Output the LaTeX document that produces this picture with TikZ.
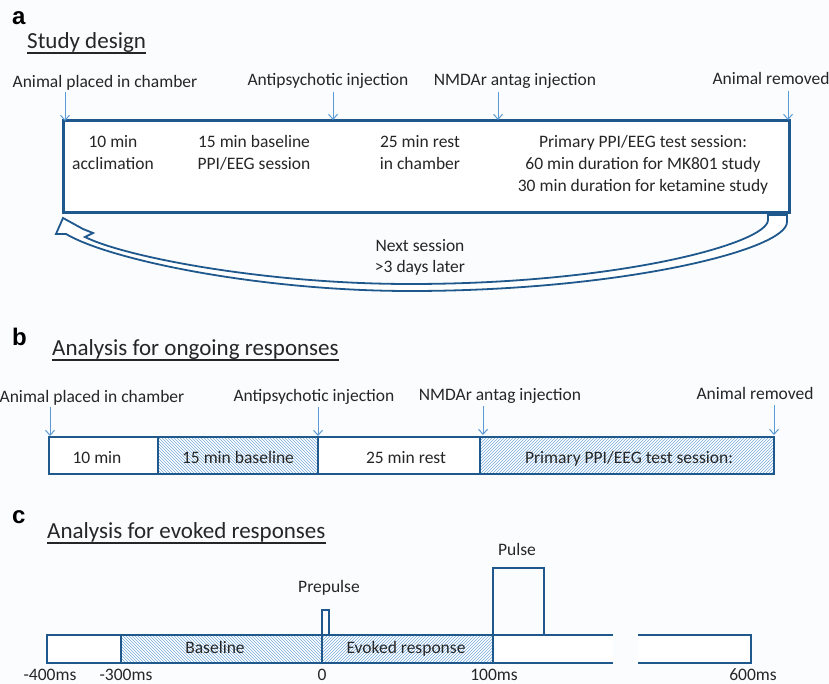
\documentclass[tikz,border=0pt]{standalone}
\usepackage{fontspec}
\setmainfont{Carlito}
\newfontfamily\labfont{Liberation Sans}
\usetikzlibrary{patterns,arrows.meta}
\definecolor{dblue}{RGB}{31,88,140}
\definecolor{lblue}{RGB}{91,155,213}
\definecolor{hatchc}{RGB}{120,170,220}
\definecolor{txtc}{RGB}{38,38,38}
\definecolor{bgc}{RGB}{251,252,254}
\begin{document}
\begin{tikzpicture}[x=1pt,y=-1pt,
  txt/.style={font=\fontsize{17.5}{21}\selectfont, text=txtc, inner sep=0pt, anchor=base},
  ttl/.style={font=\fontsize{23}{27}\selectfont, text=txtc, inner sep=0pt, anchor=base west},
  lab/.style={font=\labfont\bfseries\fontsize{24}{28}\selectfont, text=black, inner sep=0pt, anchor=base west},
  inj/.style={draw=lblue, line width=1pt, -{Straight Barb[length=5pt,width=9pt]}},
  frame/.style={draw=dblue, line width=2.5pt},
  uline/.style={draw=txtc, line width=1.4pt},
  hatchNW/.style={pattern=north west lines, pattern color=hatchc},
  hatchNE/.style={pattern=north east lines, pattern color=hatchc},
]
\useasboundingbox[fill=bgc] (0,0) rectangle (829,684);

% ---------------- panel a ----------------
\node[lab] (la) at (12,25) {a};
\node[ttl] (ta) at (27,49) {Study design};
\draw[uline] ([yshift=-4pt]ta.base west) -- ([yshift=-4pt]ta.base east);

\node[txt] (a1) at (105,88) {Animal placed in chamber};
\node[txt] (a2) at (328,86) {Antipsychotic injection};
\node[txt] (a3) at (515,86) {NMDAr antag injection};
\node[txt] (a4) at (771,85) {Animal removed};
\coordinate (a1s) at (65,92);  \coordinate (a1e) at (65,121);
\coordinate (a2s) at (333,92); \coordinate (a2e) at (333,120);
\coordinate (a3s) at (498,92); \coordinate (a3e) at (498,120);
\coordinate (a4s) at (788,91); \coordinate (a4e) at (788,120);

% curved return arrow
\draw[draw=dblue, line width=1.8pt, fill=white, line join=miter]
  (787,215) -- (787,222) .. controls (787,250) and (620,291) .. (410,291)
  .. controls (260,291) and (110,260) .. (66,234)
  -- (56,234) -- (63,218) -- (83,229) -- (93,233) -- (85,237)
  .. controls (125,257) and (265,284) .. (410,284)
  .. controls (620,284) and (768,243) .. (768,220) -- (768,215) -- cycle;

\draw[frame, line width=3pt, fill=white] (63,121) rectangle (789,213);
\draw[inj] (a1s) -- (a1e);
\draw[inj] (a2s) -- (a2e);
\draw[inj] (a3s) -- (a3e);
\draw[inj] (a4s) -- (a4e);

\node[txt] (s1a) at (113,148) {10 min};
\node[txt] (s1b) at (113,170) {acclimation};
\node[txt] (s2a) at (254,148) {15 min baseline};
\node[txt] (s2b) at (254,170) {PPI/EEG session};
\node[txt] (s3a) at (420,148) {25 min rest};
\node[txt] (s3b) at (420,170) {in chamber};
\node[txt] (s4a) at (643,148) {Primary PPI/EEG test session:};
\node[txt] (s4b) at (643,170) {60 min duration for MK801 study};
\node[txt] (s4c) at (643,192) {30 min duration for ketamine study};
\node[txt] (nx1) at (420,252) {Next session};
\node[txt] (nx2) at (420,273) {>3 days later};

% ---------------- panel b ----------------
\node[lab] (lb) at (12,345) {b};
\node[ttl] (tb) at (52,355) {Analysis for ongoing responses};
\draw[uline] ([yshift=-5pt]tb.base west) -- ([yshift=-5pt]tb.base east);

\node[txt] (b1) at (92,402) {Animal placed in chamber};
\node[txt] (b2) at (314,401) {Antipsychotic injection};
\node[txt] (b3) at (500,400) {NMDAr antag injection};
\node[txt] (b4) at (755,399) {Animal removed};
\coordinate (b1s) at (50,407);  \coordinate (b1e) at (50,436);
\coordinate (b2s) at (318,407); \coordinate (b2e) at (318,436);
\coordinate (b3s) at (483,406); \coordinate (b3e) at (483,435);
\coordinate (b4s) at (774,405); \coordinate (b4e) at (774,435);

\fill[white] (49,437) rectangle (774,474);
\path[hatchNW] (158,437) rectangle (318,474);
\path[hatchNE] (480,437) rectangle (774,474);
\draw[frame] (49,437) rectangle (774,474);
\draw[frame] (158,437) -- (158,474);
\draw[frame] (318,437) -- (318,474);
\draw[frame] (480,437) -- (480,474);
\draw[inj] (b1s) -- (b1e);
\draw[inj] (b2s) -- (b2e);
\draw[inj] (b3s) -- (b3e);
\draw[inj] (b4s) -- (b4e);

\node[txt] (bs1) at (97,463) {10 min};
\node[txt] (bs2) at (238,463) {15 min baseline};
\node[txt] (bs3) at (406,463) {25 min rest};
\node[txt] (bs4) at (629,463) {Primary PPI/EEG test session:};

% ---------------- panel c ----------------
\node[lab] (lc) at (12,523) {c};
\node[ttl] (tc) at (47,538) {Analysis for evoked responses};
\draw[uline] ([yshift=-5pt]tc.base west) -- ([yshift=-5pt]tc.base east);

\fill[white] (47,635) rectangle (613,663);
\fill[white] (638,635) rectangle (751,663);
\path[hatchNW] (121,635) rectangle (322,663);
\path[hatchNE] (322,635) rectangle (493,663);
\draw[frame] (613,635) -- (47,635) -- (47,663) -- (613,663);
\draw[frame] (638,635) -- (751,635) -- (751,663) -- (638,663);
\draw[frame] (121,635) -- (121,663);
\draw[frame] (322,663) -- (322,610) -- (329,610) -- (329,635);
\draw[frame] (493,663) -- (493,568) -- (544,568) -- (544,635);

\node[txt] (pp) at (329,592) {Prepulse};
\node[txt] (pu) at (517,555) {Pulse};
\node[txt] (bl) at (215,653) {Baseline};
\node[txt] (ev) at (406,653) {Evoked response};
\node[txt] (t1) at (50,680) {-400ms};
\node[txt] (t2) at (126,680) {-300ms};
\node[txt] (t3) at (322,680) {0};
\node[txt] (t4) at (494,680) {100ms};
\node[txt] (t5) at (753,680) {600ms};
\end{tikzpicture}
\end{document}
